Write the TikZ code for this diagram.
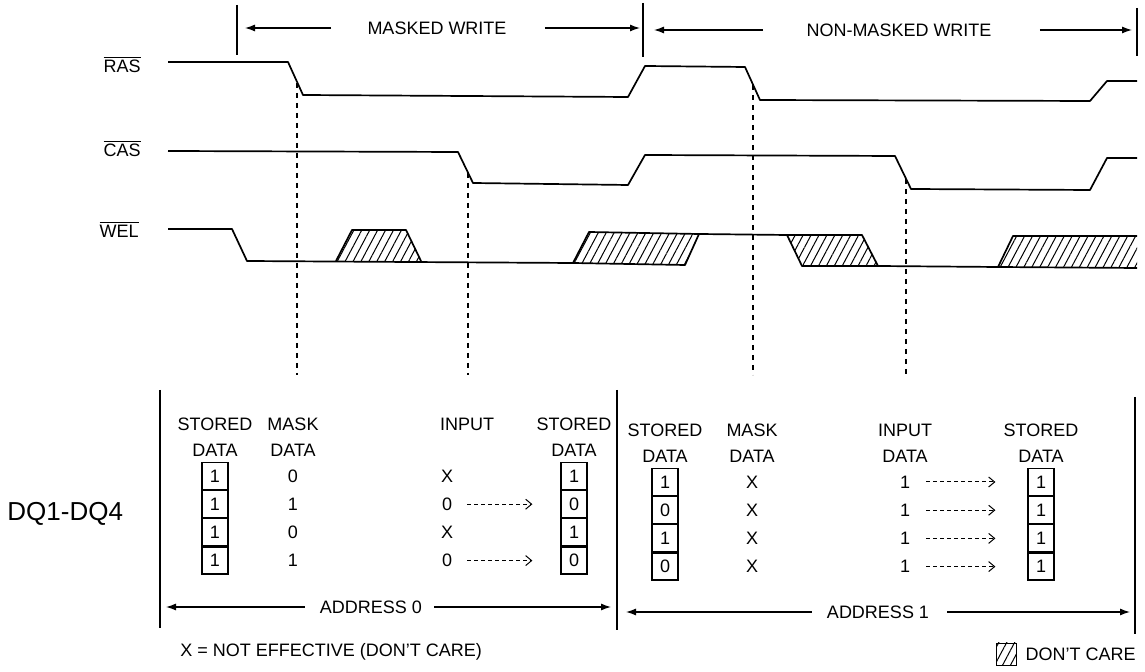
\documentclass[tikz,border=0pt]{standalone}
\usepackage{fontspec}
\setmainfont{Liberation Sans}
\usetikzlibrary{arrows.meta,patterns.meta,positioning}

\begin{document}
\begin{tikzpicture}[x=0.5pt,y=-0.5pt,font=\fontsize{9}{10}\selectfont]
            \tikzset{every node/.style={inner sep=0pt},
                     Sig/.style={line width=0.85pt,line join=round},
                     Hatch/.style={pattern={Lines[angle=62,distance=3.5pt,line width=0.5pt]}},
                     Bar/.style={line width=0.8pt},
                     Span/.style={line width=0.6pt,-{Latex[length=5pt,width=3.5pt]}},
                     Drop/.style={line width=0.6pt,dash pattern=on 2.5pt off 2.5pt},
                     Pass/.style={line width=0.5pt,dash pattern=on 2pt off 1.5pt,-{Straight Barb[length=3pt,width=5pt]}},
                     Cell/.style={draw,line width=0.6pt,minimum width=13pt,minimum height=13.5pt}}
            \useasboundingbox (0,0) rectangle (1145,672);
            % cycle markers
            \coordinate (m0) at (237,5) ;
            \coordinate (m1) at (643,3) ;
            \coordinate (m2) at (1137,8) ;
            \draw[Bar] (m0) -- ++(0,50) ;
            \draw[Bar] (m1) -- ++(0,54) ;
            \draw[Bar] (m2) -- ++(0,48) ;
            \node (mw) at (437,28) {MASKED WRITE} ;
            \node (nmw) at (899,30) {NON-MASKED WRITE} ;
            \draw[Span,shorten <=18pt,shorten >=4pt] (mw.west) -- (m0 |- mw.west) ;
            \draw[Span,shorten <=19pt,shorten >=1.5pt] (mw.east) -- (m1 |- mw.east) ;
            \draw[Span,shorten <=21.5pt,shorten >=5.5pt] (nmw.west) -- (m1 |- nmw.west) ;
            \draw[Span,shorten <=24pt,shorten >=2.5pt] (nmw.east) -- (m2 |- nmw.east) ;
            % signals
            \node[anchor=base east] (ras) at (141,73) {$\overline{\mbox{RAS}}$} ;
            \node[anchor=base east] (cas) at (141,157) {$\overline{\mbox{CAS}}$} ;
            \node[anchor=base east] (wel) at (139,238) {$\overline{\mbox{WEL}}$} ;
            \draw[Sig] (168,62) -- (288,62) -- (303,95) -- (628,97) -- (645,66) -- (745,67) -- (760,100) -- (1090,101) -- (1107,81) -- (1137,81) ;
            \draw[Sig] (168,151) -- (458,152) -- (473,183) -- (628,185) -- (645,155) -- (895,156) -- (911,189) -- (1090,190) -- (1107,158) -- (1137,158) ;
            \draw[Sig] (168,229) -- (232,229) -- (247,261) -- (573,263) ;
            \draw[Sig,Hatch] (336,261) -- (352,230) -- (406,230) -- (421,261) ;
            \draw[Sig,Hatch] (573,263) -- (589,232) -- (699,234) -- (685,265) -- cycle ;
            \draw[Sig] (699,234) -- (787,235) ;
            \draw[Sig,Hatch] (787,235) -- (862,235) -- (878,266) -- (802,266) -- cycle ;
            \draw[Sig] (878,266) -- (998,267) ;
            \fill[Hatch] (998,267) -- (1013,236) -- (1137,236) -- (1137,268) -- cycle ;
            \draw[Sig] (1137,268) -- (998,267) -- (1013,236) -- (1137,236) ;
            % strobe points
            \coordinate (foot) at (0,375) ;
            \coordinate (s1) at (297,83) ;
            \coordinate (s2) at (468,173) ;
            \coordinate (s3) at (753,85) ;
            \coordinate (s4) at (906,179) ;
            \foreach \s in {s1,s2,s3,s4}
                \draw[Drop] (\s) -- (\s |- foot) ;
            % data field
            \node[anchor=west,font=\fontsize{13}{15}\selectfont] (dq) at (7,514) {DQ1-DQ4} ;
            \coordinate (vL) at (160,390) ;
            \coordinate (vM) at (617,390) ;
            \coordinate (vR) at (1135,397) ;
            \draw[Bar] (vL) -- ++(0,238) ;
            \draw[Bar] (vM) -- ++(0,240) ;
            \draw[Bar] (vR) -- ++(0,237) ;
            % address 0
            \node (hsa) at (215,424) {STORED} ;
            \node[below=6.5pt of hsa] {DATA} ;
            \node (hma) at (293,424) {MASK} ;
            \node[below=6.5pt of hma] {DATA} ;
            \node (hia) at (467,424) {INPUT} ;
            \node (hsb) at (574,424) {STORED} ;
            \node[below=6.5pt of hsb] {DATA} ;
            \node[Cell] (sa1) at (215,476) {1} ;
            \node[Cell,below=0pt of sa1] (sa2) {1} ;
            \node[Cell,below=0pt of sa2] (sa3) {1} ;
            \node[Cell,below=0pt of sa3] (sa4) {1} ;
            \node[Cell] (sb1) at (hsb |- sa1) {1} ;
            \node[Cell,below=0pt of sb1] (sb2) {0} ;
            \node[Cell,below=0pt of sb2] (sb3) {1} ;
            \node[Cell,below=0pt of sb3] (sb4) {0} ;
            \node (ma1) at (hma |- sa1) {0} ;
            \node (ma2) at (hma |- sa2) {1} ;
            \node (ma3) at (hma |- sa3) {0} ;
            \node (ma4) at (hma |- sa4) {1} ;
            \node (ia1) at (447,476) {X} ;
            \node (ia2) at (ia1 |- sa2) {0} ;
            \node (ia3) at (ia1 |- sa3) {X} ;
            \node (ia4) at (ia1 |- sa4) {0} ;
            \draw[Pass,shorten <=7.5pt,shorten >=14pt] (ia2) -- (sb2) ;
            \draw[Pass,shorten <=7.5pt,shorten >=14pt] (ia4) -- (sb4) ;
            % address 1
            \node (hsc) at (665,430) {STORED} ;
            \node[below=6.5pt of hsc] {DATA} ;
            \node (hmc) at (752,430) {MASK} ;
            \node[below=6.5pt of hmc] {DATA} ;
            \node (hic) at (905,430) {INPUT} ;
            \node[below=6.5pt of hic] {DATA} ;
            \node (hsd) at (1041,430) {STORED} ;
            \node[below=6.5pt of hsd] {DATA} ;
            \node[Cell] (sc1) at (665,482) {1} ;
            \node[Cell,below=0pt of sc1] (sc2) {0} ;
            \node[Cell,below=0pt of sc2] (sc3) {1} ;
            \node[Cell,below=0pt of sc3] (sc4) {0} ;
            \node[Cell] (sd1) at (hsd |- sc1) {1} ;
            \node[Cell,below=0pt of sd1] (sd2) {1} ;
            \node[Cell,below=0pt of sd2] (sd3) {1} ;
            \node[Cell,below=0pt of sd3] (sd4) {1} ;
            \foreach \r in {1,2,3,4} {
                \node (mc\r) at (hmc |- sc\r) {X} ;
                \node (ic\r) at (hic |- sc\r) {1} ;
                \draw[Pass,shorten <=8pt,shorten >=16pt] (ic\r) -- (sd\r) ;
            }
            % address spans
            \node (ad0) at (371,607) {ADDRESS 0} ;
            \node (ad1) at (878,612) {ADDRESS 1} ;
            \draw[Span,shorten <=7.5pt,shorten >=3pt] (ad0.west) -- (vL |- ad0.west) ;
            \draw[Span,shorten <=6pt,shorten >=3pt] (ad0.east) -- (vM |- ad0.east) ;
            \draw[Span,shorten <=7.5pt,shorten >=4.5pt] (ad1.west) -- (vM |- ad1.west) ;
            \draw[Span,shorten <=9pt,shorten >=2.5pt] (ad1.east) -- (vR |- ad1.east) ;
            % legend
            \node[anchor=west] (xnote) at (180,652) {X = NOT EFFECTIVE (DON'T CARE)} ;
            \node[anchor=east] (dctext) at (1136,654) {DON'T CARE} ;
            \node[Hatch,draw,line width=0.4pt,minimum width=10pt,minimum height=11pt,left=4pt of dctext] (dcbox) {} ;
        \end{tikzpicture}
\end{document}
